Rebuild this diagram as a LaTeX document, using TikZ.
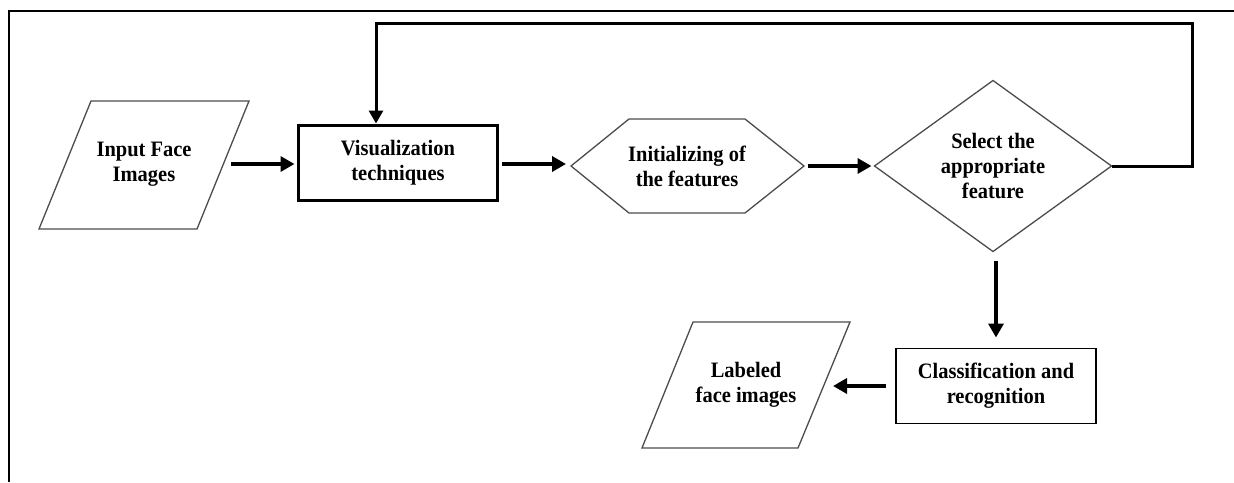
\documentclass[tikz,border=0pt]{standalone}
\usepackage{fontspec}
\setmainfont[FakeStretch=0.93]{Liberation Serif}
\usetikzlibrary{arrows.meta,shapes.geometric}
\begin{document}
\begin{tikzpicture}[x=1pt,y=-1pt,
  lbl/.style={font=\bfseries\fontsize{22}{25}\selectfont, align=center, inner sep=0pt},
  thinshape/.style={draw=black!70, line width=1.3pt},
  arr/.style={line width=3.5pt, -{Triangle[length=14pt,width=15pt]}},
  fb/.style={line width=3pt, -{Triangle[length=13pt,width=14pt]}}]
\useasboundingbox (0,0) rectangle (1234,482);
\fill[white] (0,0) rectangle (1234,482);
% frame
\draw[line width=2.2pt] (9,482) -- (9,11) -- (1234,11);

% input parallelogram
\draw[thinshape] (91,101) -- (249,101) -- (197,229) -- (39,229) -- cycle;
\node[lbl] (in) at (144,164) {Input Face\\Images};
\coordinate (inR) at (231,164);

% visualization box
\node[lbl, draw, line width=3pt, minimum width=199pt, minimum height=75pt, outer sep=0pt] (vis) at (398,163) {Visualization\\techniques};

% hexagon
\draw[thinshape] (571,166) -- (629,119) -- (745,119) -- (804,166) -- (745,213) -- (629,213) -- cycle;
\node[lbl] (init) at (687,166) {Initializing of\\the features};
\coordinate (hexL) at (571,164);
\coordinate (hexR) at (804,166);

% diamond
\node[lbl, diamond, thinshape, minimum width=237pt, minimum height=171pt, outer sep=0pt] (sel) at (993,166) {Select the\\appropriate\\feature};

% classification box
\node[lbl, draw, line width=1.6pt, minimum width=200pt, minimum height=75pt, outer sep=0pt] (cls) at (996,386) {Classification and\\recognition};

% labeled parallelogram
\draw[thinshape] (693,322) -- (850,322) -- (798,448) -- (642,448) -- cycle;
\node[lbl] (out) at (746,385) {Labeled\\face images};
\coordinate (outR) at (833,386);

% connectors
\draw[arr] (inR) -- ([xshift=-4pt]inR -| vis.west);
\draw[arr] ([xshift=4pt]vis.east |- hexL) -- ([xshift=-5pt]hexL);
\draw[arr] ([xshift=4pt]hexR) -- ([xshift=-3pt]sel.west);
\coordinate (fbTR) at (1192,23);
\coordinate (fbTL) at (376,23);
\draw[fb, line join=miter] (sel.east) -| (fbTR) -- (fbTL) -- ([yshift=2pt]fbTL |- vis.north);
\draw[arr] ([yshift=-9pt]sel.south -| cls.north) -- ([yshift=11pt]cls.north);
\draw[arr] ([xshift=-10pt]cls.west) -- (outR);
\end{tikzpicture}
\end{document}
